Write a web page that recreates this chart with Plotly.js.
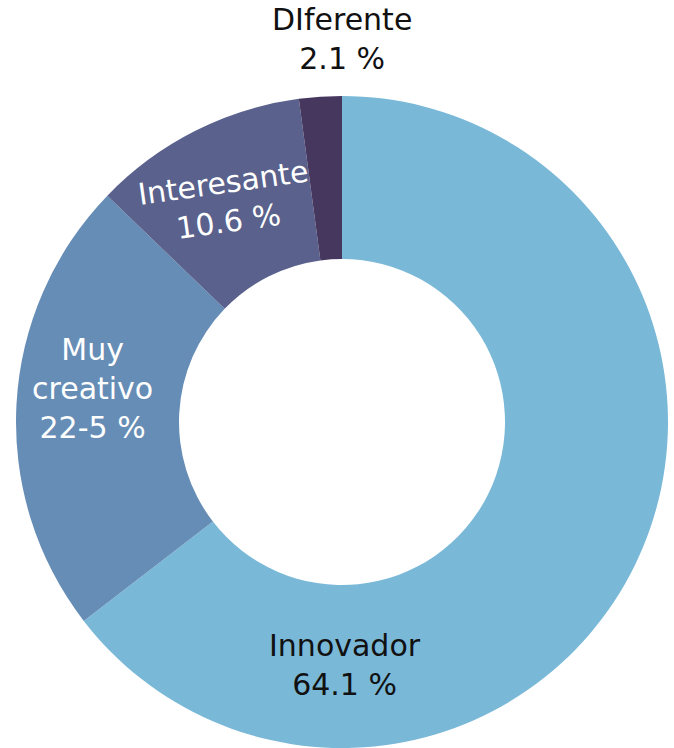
<!DOCTYPE html>
<html>
<head>
<meta charset="utf-8">
<script src="https://cdn.plot.ly/plotly-3.0.1.min.js"></script>
<style>html,body{margin:0;padding:0;background:#fff;}#chart{width:674px;height:748px;}</style>
</head>
<body>
<div id="chart"></div>
<script>
const categories = ["Innovador", "Muy<br>creativo", "Interesante", "DIferente"];
const values = [64.1, 22.5, 10.6, 2.1];
const valueLabels = ["64.1 %", "22-5 %", "10.6 %", "2.1 %"];
const colors = ["#7ab8d8", "#668db6", "#59618c", "#46375f"];
const labelColors = ["#111111", "#ffffff", "#ffffff", "#111111"];

const FONT = "DejaVu Sans, sans-serif";

// label placement (layout only, paper coordinates)
const labelPos = [
  {x: 0.505, y: 0.128, angle: 0},
  {x: 0.118, y: 0.551, angle: 0},
  {x: 0.322, y: 0.838, angle: -8},
  {x: 0.500, y: 1.087, angle: 0}
];

const trace = {
  type: "pie",
  labels: categories,
  values: values,
  textinfo: "none",
  hoverinfo: "label+percent",
  sort: false,
  direction: "clockwise",
  rotation: 0,
  hole: 0.5,
  marker: {colors: colors, line: {color: "#ffffff", width: 0}},
  showlegend: false,
  automargin: false
};

const annotations = categories.map((c, i) => ({
  xref: "paper", yref: "paper",
  x: labelPos[i].x, y: labelPos[i].y,
  xanchor: "center", yanchor: "middle",
  text: c + "<br>" + valueLabels[i],
  textangle: labelPos[i].angle,
  showarrow: false,
  align: "center",
  font: {family: FONT, size: 30, color: labelColors[i]}
}));

const layout = {
  width: 674, height: 748,
  margin: {l: 16, r: 6, t: 96, b: 0, pad: 0},
  paper_bgcolor: "#ffffff",
  plot_bgcolor: "#ffffff",
  showlegend: false,
  annotations: annotations
};

Plotly.newPlot("chart", [trace], layout, {displayModeBar: false, staticPlot: true});
</script>
</body>
</html>
